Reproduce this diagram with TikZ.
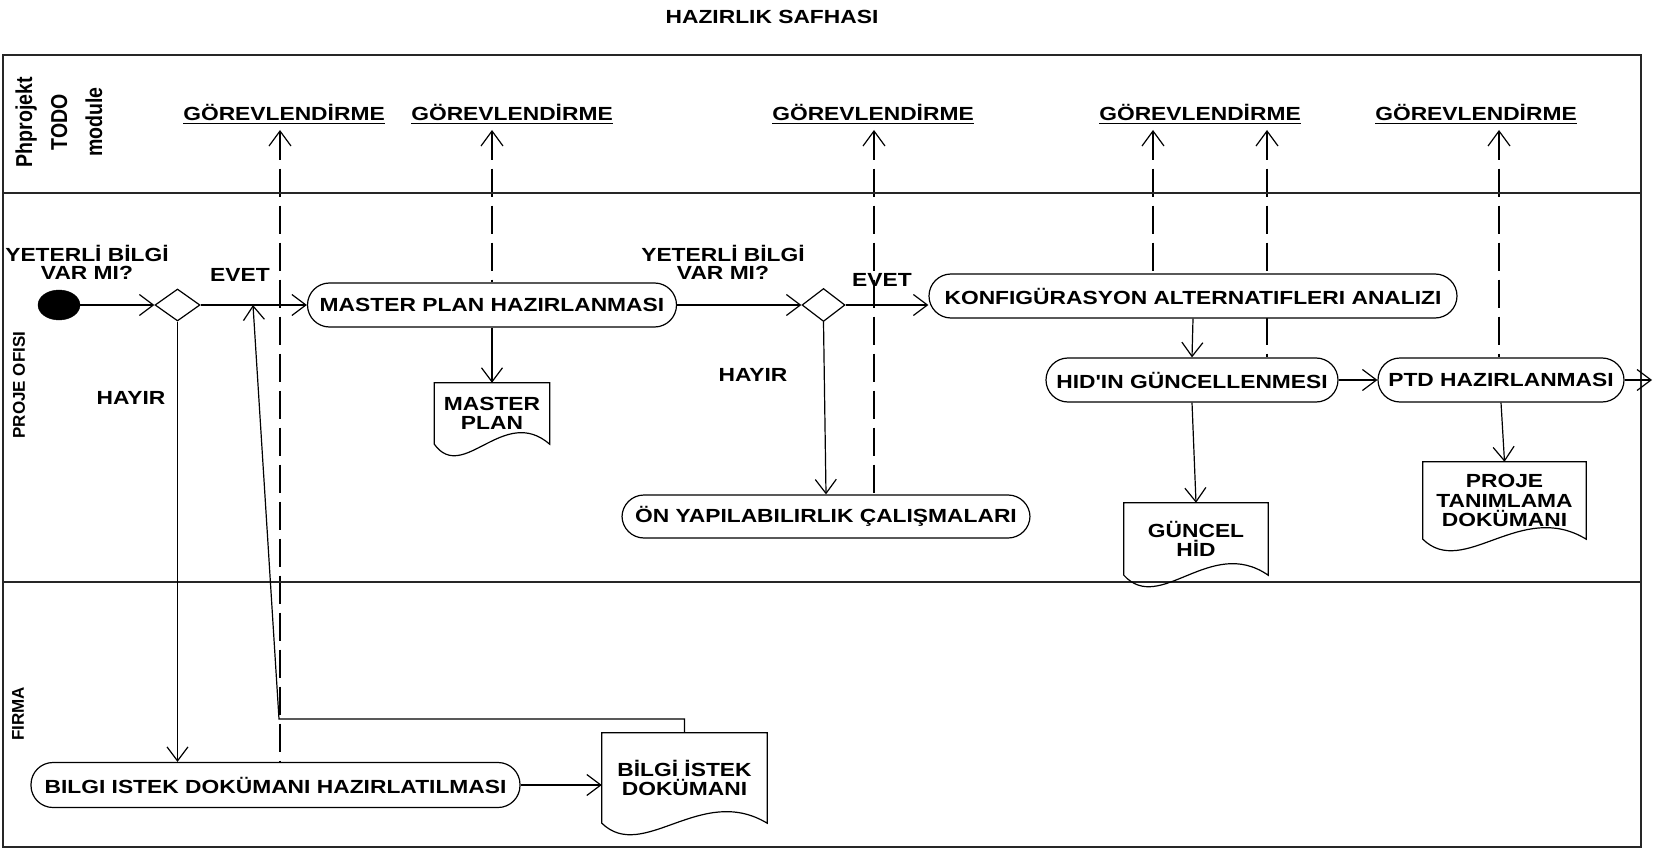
\documentclass[tikz,border=0pt]{standalone}
\usepackage{fontspec}
\setmainfont{Liberation Sans}
\newfontfamily\widefont{Liberation Sans}[FakeStretch=1.2]
\newfontfamily\narrowfont{Liberation Sans}[FakeStretch=0.85]
\usetikzlibrary{shapes.geometric,arrows.meta,calc,backgrounds}

% underlined task label with a firm rule
\newcommand\taskline[1]{\vtop{\hbox{#1}\kern2pt\hrule height 1.3pt}}

% outline of a document symbol around a named rectangle node
\newcommand\docout[1]{%
  \draw[line width=1.2pt] (#1.south west) -- (#1.north west) -- (#1.north east) -- (#1.south east)
    .. controls ($(#1.south west)!0.6!(#1.south east)+(0,-40)$)
       and ($(#1.south west)!0.25!(#1.south east)+(0,40)$) .. cycle;}

\tikzset{
  txt/.style={font=\widefont\bfseries\fontsize{19}{19}\selectfont},
  lbl/.style={txt, inner sep=0pt, align=center, text=black},
  act/.style={txt, rectangle, rounded corners=22pt, draw, line width=1.2pt, fill=white,
    minimum height=44pt, inner sep=0pt},
  docnode/.style={txt, rectangle, inner sep=0pt, align=center,
    font=\widefont\bfseries\fontsize{19}{19.5}\selectfont},
  decision/.style={diamond, draw, line width=1.2pt, fill=white, inner sep=0pt,
    minimum width=45pt, minimum height=32pt},
  startdot/.style={ellipse, draw, fill=black, inner sep=0pt, minimum width=42pt, minimum height=30pt},
  flow/.style={line width=1.2pt, -{Straight Barb[length=14pt,width=21pt]}},
  task/.style={line width=1.2pt, dash pattern=on 28pt off 9pt, {Straight Barb[length=15pt,width=22pt]}-},
  lane/.style={line width=1.6pt, draw=black!85},
  lanetitle/.style={rotate=90, inner sep=0pt, align=center,
    font=\bfseries\fontsize{17}{17}\selectfont},
}

\begin{document}
\begin{tikzpicture}[x=1pt,y=-1pt]
\useasboundingbox (0,0) rectangle (1662,850);

% pool and lanes
\draw[lane] (3,55) rectangle (1641,847);
\draw[lane] (3,193) -- (1641,193);
\draw[lane] (3,582) -- (1641,582);

\node[lbl] (title) at (772,17) {HAZIRLIK SAFHASI};

\node[lanetitle, font=\narrowfont\bfseries\fontsize{23}{35}\selectfont] (lanetodo) at (59,122) {Phprojekt\\TODO\\module};
\node[lanetitle] (laneofis) at (19,385) {PROJE OFISI};
\node[lanetitle] (lanefirma) at (18,714) {FIRMA};

% task labels in the TODO lane
\node[lbl] (g1) at (284,114) {\taskline{GÖREVLENDİRME}};
\node[lbl] (g2) at (512,114) {\taskline{GÖREVLENDİRME}};
\node[lbl] (g3) at (873,114) {\taskline{GÖREVLENDİRME}};
\node[lbl] (g4) at (1200,114) {\taskline{GÖREVLENDİRME}};
\node[lbl] (g5) at (1476,114) {\taskline{GÖREVLENDİRME}};

% activities
\node[startdot] (start) at (59,305) {};
\node[decision] (d1) at (177.5,305) {};
\node[act, minimum width=369pt] (mph) at (492,305) {MASTER PLAN HAZIRLANMASI};
\node[decision, minimum width=43pt, minimum height=33pt] (d2) at (823.5,305) {};
\node[act, minimum width=528pt] (konf) at (1193,296) {KONFIGÜRASYON ALTERNATIFLERI ANALIZI};
\node[act, minimum width=408pt, minimum height=43pt] (on) at (826,516.5) {ÖN YAPILABILIRLIK ÇALIŞMALARI};
\node[act, minimum width=292pt] (hid) at (1192,380) {HID'IN GÜNCELLENMESI};
\node[act, minimum width=246pt] (ptd) at (1501,380) {PTD HAZIRLANMASI};
\node[act, minimum width=489pt, minimum height=45pt] (bilgi) at (275.5,785) {BILGI ISTEK DOKÜMANI HAZIRLATILMASI};

% documents
\node[docnode, minimum width=115pt, minimum height=61pt] (mpdoc) at (492,413.5) {MASTER\\PLAN};
\node[docnode, minimum width=163pt, minimum height=77pt] (pdoc) at (1504.5,500.5) {PROJE\\TANIMLAMA\\DOKÜMANI};
\node[docnode, minimum width=144pt, minimum height=72pt] (gdoc) at (1196,539) {GÜNCEL\\HİD};
\node[docnode, minimum width=165pt, minimum height=90pt] (bdoc) at (684.5,778) {BİLGİ İSTEK\\DOKÜMANI};
\docout{mpdoc}
\docout{pdoc}
\docout{gdoc}
\docout{bdoc}

% guard labels
\node[lbl, font=\widefont\bfseries\fontsize{19}{18}\selectfont] (q1) at (87,262) {YETERLİ BİLGİ\\VAR MI?};
\node[lbl] (yes1) at (240,275) {EVET};
\node[lbl] (no1) at (131,398) {HAYIR};
\node[lbl, font=\widefont\bfseries\fontsize{19}{18}\selectfont] (q2) at (723,262) {YETERLİ BİLGİ\\VAR MI?};
\node[lbl] (yes2) at (882,280) {EVET};
\node[lbl] (no2) at (753,375) {HAYIR};

% control flow
\coordinate (corner) at (279,719);
\coordinate (merge) at (253,305);
\coordinate (exit) at (1652,380);
\draw[flow] (start.east) -- (d1.west);
\draw[flow] (d1.east) -- (mph.west);
\draw[flow] (d1.south) -- (d1.south |- bilgi.north);
\draw[flow] (bdoc.north) |- (corner) -- (merge);
\draw[flow] (mph.south) -- (mpdoc.north);
\draw[flow] (mph.east) -- (d2.west);
\draw[flow] (d2.east) -- (d2.east -| konf.west);
\draw[flow] (d2.south) -- (on.north);
\draw[flow] (konf.south) -- (hid.north);
\draw[flow] (hid.east) -- (ptd.west);
\draw[flow] (ptd.east) -- (exit);
\draw[flow] (hid.south) -- (gdoc.north);
\draw[flow] (ptd.south) -- (pdoc.north);
\draw[flow] (bilgi.east) -- (bilgi.east -| bdoc.west);

% task assignments to the TODO module
\coordinate (t1) at (280,130);
\coordinate (t2) at (492,130);
\coordinate (t3) at (874,130);
\coordinate (t4) at (1153,130);
\coordinate (t5) at (1267,130);
\coordinate (t6) at (1499,130);
\begin{pgfonlayer}{background}
\draw[task] (t1) -- (t1 |- bilgi.north);
\draw[task] (t2) -- (mph.north);
\draw[task] (t3) -- (t3 |- on.north);
\draw[task] (t4) -- (t4 |- konf.north);
\draw[task] (t5) -- (t5 |- hid.north);
\draw[task] (t6) -- (t6 |- ptd.north);
\end{pgfonlayer}
\end{tikzpicture}
\end{document}
